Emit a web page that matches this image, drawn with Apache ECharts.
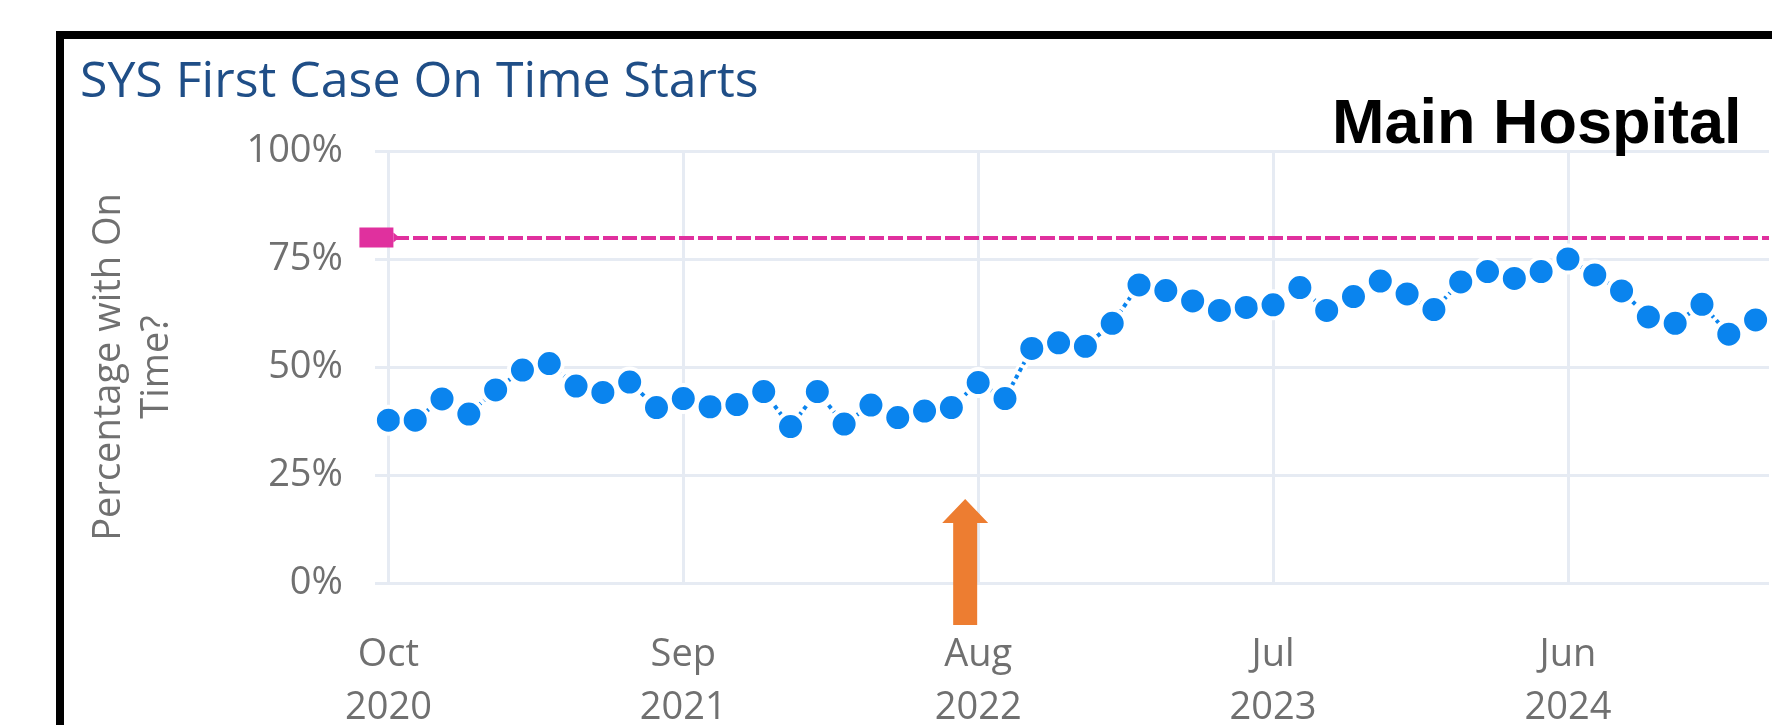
<!DOCTYPE html>
<html>
<head>
<meta charset="utf-8">
<title>SYS First Case On Time Starts</title>
<script src="https://cdn.jsdelivr.net/npm/echarts@6/dist/echarts.min.js"></script>
<style>
  html, body { margin: 0; padding: 0; background: #fff; overflow: hidden; }
  .frame {
    position: absolute; left: 56px; top: 31px; width: 2000px; height: 1000px;
    border-left: 8px solid #000; border-top: 8px solid #000;
  }
  #chart { position: absolute; left: 0; top: 0; width: 1772px; height: 725px; }
</style>
</head>
<body>
<div class="frame"></div>
<div id="chart"></div>
<script>
// months shown on the axis (Oct 2020 .. Jan 2025)
const months = [
  '2020-10', '2020-11', '2020-12', '2021-01', '2021-02', '2021-03', '2021-04', '2021-05', '2021-06', '2021-07', '2021-08', '2021-09',
  '2021-10', '2021-11', '2021-12', '2022-01', '2022-02', '2022-03', '2022-04', '2022-05', '2022-06', '2022-07', '2022-08', '2022-09',
  '2022-10', '2022-11', '2022-12', '2023-01', '2023-02', '2023-03', '2023-04', '2023-05', '2023-06', '2023-07', '2023-08', '2023-09',
  '2023-10', '2023-11', '2023-12', '2024-01', '2024-02', '2024-03', '2024-04', '2024-05', '2024-06', '2024-07', '2024-08', '2024-09',
  '2024-10', '2024-11', '2024-12', '2025-01'
]
// % of first cases starting on time
const onTimePct = [
  37.7, 37.7, 42.6, 39.1, 44.7, 49.3, 50.8, 45.6, 44.1, 46.5, 40.6, 42.7,
  40.8, 41.3, 44.3, 36.2, 44.3, 36.8, 41.2, 38.3, 39.8, 40.6, 46.4, 42.7,
  54.3, 55.6, 54.8, 60.1, 69.0, 67.7, 65.3, 63.1, 63.8, 64.4, 68.4, 63.1,
  66.3, 69.9, 66.9, 63.3, 69.7, 72.1, 70.5, 72.1, 75.0, 71.3, 67.6, 61.6,
  60.1, 64.5, 57.6, 60.9
]
const targetPct = 80
const yTicks = [0, 25, 50, 75, 100]
const monthNames = ['Jan', 'Feb', 'Mar', 'Apr', 'May', 'Jun', 'Jul', 'Aug', 'Sep', 'Oct', 'Nov', 'Dec']
const arrowMonth = '2022-08'

const textGray = '#707070'
const gridColor = '#E6EBF3'
const blue = '#0A84EE'
const pink = '#E0309E'

const chart = echarts.init(document.getElementById('chart'))

chart.setOption({
  animation: false,
  title: [
    {
      text: 'SYS First Case On Time Starts',
      left: 75,
      top: 53,
      textStyle: { fontFamily: 'Open Sans', fontSize: 50, fontWeight: 'normal', color: '#1F4E87' }
    },
    {
      text: 'Main Hospital',
      left: 1327,
      top: 89,
      textStyle: { fontFamily: 'Liberation Sans, Arial', fontSize: 63, fontWeight: 'bold', color: '#000' }
    }
  ],
  grid: { left: 375, right: 3, top: 151, bottom: 142, containLabel: false, outerBoundsMode: 'none' },
  xAxis: {
    type: 'category',
    data: months,
    boundaryGap: true,
    axisLine: { show: false },
    axisTick: { show: false },
    axisLabel: {
      interval: 10,
      margin: 46,
      color: textGray,
      fontFamily: 'Open Sans',
      fontSize: 38,
      lineHeight: 53,
      formatter: v => {
        const [y, m] = v.split('-')
        return monthNames[+m - 1] + '\n' + y
      }
    },
    splitLine: {
      show: true,
      interval: 10,
      alignWithLabel: true,
      lineStyle: { color: gridColor, width: 3 }
    }
  },
  yAxis: {
    type: 'value',
    min: yTicks[0],
    max: yTicks[yTicks.length - 1],
    interval: yTicks[1] - yTicks[0],
    name: 'Percentage with On\nTime?',
    nameLocation: 'middle',
    nameRotate: 90,
    nameGap: 194,
    nameTextStyle: { fontFamily: 'Open Sans', fontSize: 38, lineHeight: 48, color: textGray },
    axisLine: { show: false },
    axisTick: { show: false },
    axisLabel: {
      margin: 32,
      color: textGray,
      fontFamily: 'Open Sans',
      fontSize: 38,
      formatter: '{value}%'
    },
    splitLine: { lineStyle: { color: gridColor, width: 3 } }
  },
  series: [
    {
      // white casing under the line, like the original renderer
      type: 'line',
      data: onTimePct,
      symbol: 'none',
      silent: true,
      z: 2,
      lineStyle: { color: '#fff', width: 10 }
    },
    {
      type: 'line',
      data: onTimePct,
      z: 3,
      symbol: 'circle',
      symbolSize: 27,
      showSymbol: true,
      showAllSymbol: true,
      itemStyle: { color: blue, borderColor: '#fff', borderWidth: 4 },
      lineStyle: { color: blue, width: 4, type: [4, 4] },
      markLine: {
        silent: true,
        symbol: 'none',
        label: { show: false },
        lineStyle: { color: pink, width: 4, type: [15, 4] },
        data: [{ yAxis: targetPct }]
      }
    }
  ]
})

// target marker on the left and the orange arrow, placed through the axes
const tgt = chart.convertToPixel({ xAxisIndex: 0, yAxisIndex: 0 }, [0, targetPct])
const base = chart.convertToPixel({ xAxisIndex: 0, yAxisIndex: 0 }, [months.indexOf(arrowMonth), 0])
const ax = base[0] - 13
const ay = base[1]

chart.setOption({
  graphic: [
    {
      type: 'rect',
      shape: { x: tgt[0] - 29, y: tgt[1] - 10, width: 34, height: 20 },
      style: { fill: pink },
      z: 10
    },
    {
      type: 'polygon',
      shape: { points: [[tgt[0] + 5, tgt[1] - 5], [tgt[0] + 11, tgt[1]], [tgt[0] + 5, tgt[1] + 5]] },
      style: { fill: pink },
      z: 10
    },
    {
      type: 'polygon',
      shape: {
        points: [
          [ax, ay - 84], [ax + 23, ay - 60], [ax + 12, ay - 60], [ax + 12, ay + 42],
          [ax - 12, ay + 42], [ax - 12, ay - 60], [ax - 23, ay - 60]
        ]
      },
      style: { fill: '#ED7D31' },
      z: 10
    }
  ]
})
</script>
</body>
</html>
